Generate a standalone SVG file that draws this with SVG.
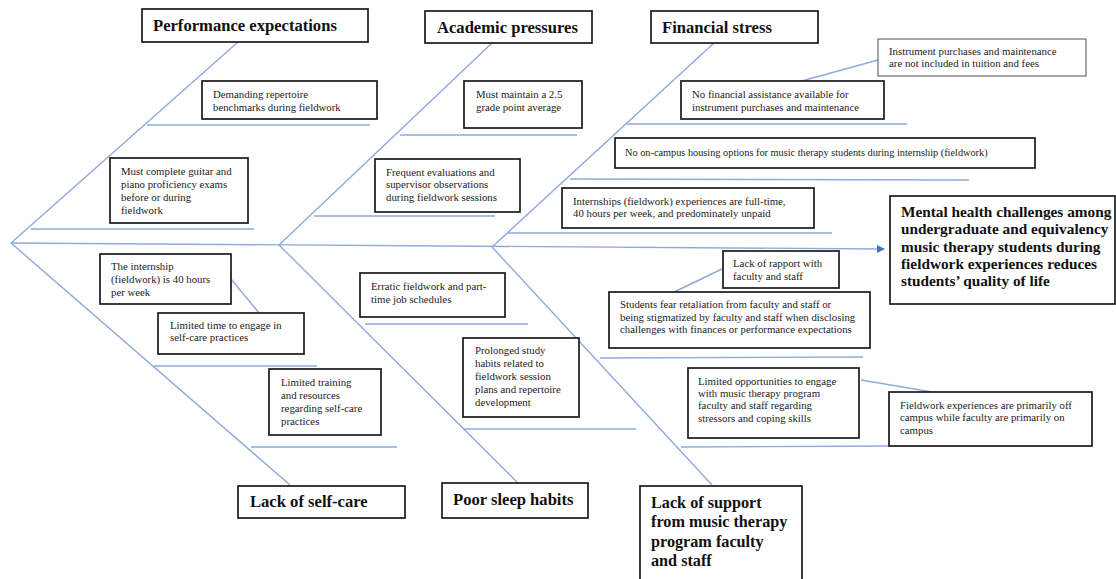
<svg xmlns="http://www.w3.org/2000/svg" width="1116" height="579" viewBox="0 0 1116 579">
<style>
.bg{fill:#fff}
.box{fill:#fff;stroke:#1a1a1a;stroke-width:1.7}
.gbox{fill:#fff;stroke:#6b6b6b;stroke-width:1.2}
.bone{stroke:#8eaadb;stroke-width:1.4;fill:none}
.sub{stroke:#8eaadb;stroke-width:1.4;fill:none}
.t{font-family:"Liberation Serif","Times New Roman",serif;font-size:10.8px;fill:#222}
.h{font-family:"Liberation Serif","Times New Roman",serif;font-size:16.6px;font-weight:bold;fill:#111}
.hs{font-family:"Liberation Serif","Times New Roman",serif;font-size:16.2px;font-weight:bold;fill:#111}
.hh{font-family:"Liberation Serif","Times New Roman",serif;font-size:15.3px;font-weight:bold;fill:#111}
</style>
<defs>
<marker id="arr" markerWidth="8" markerHeight="8" refX="7" refY="4" orient="auto" markerUnits="userSpaceOnUse">
<path d="M0,0 L8,4 L0,8 Z" fill="#4472c4"/>
</marker>
</defs>
<rect class="bg" x="0" y="0" width="1116" height="579"/>

<g id="connectors">
<line class="bone" x1="11" y1="243" x2="884" y2="249" marker-end="url(#arr)"/>
<line class="bone" x1="11" y1="243" x2="238" y2="42"/>
<line class="bone" x1="279" y1="245" x2="492" y2="43"/>
<line class="bone" x1="492" y1="247" x2="714" y2="43"/>
<line class="bone" x1="11" y1="243" x2="290" y2="485"/>
<line class="bone" x1="279" y1="245" x2="517" y2="482"/>
<line class="bone" x1="492" y1="247" x2="712" y2="485"/>
<line class="sub" x1="147" y1="125" x2="370" y2="125"/>
<line class="sub" x1="31" y1="229" x2="254" y2="229"/>
<line class="sub" x1="400" y1="135" x2="577" y2="135"/>
<line class="sub" x1="314" y1="216" x2="495" y2="216"/>
<line class="sub" x1="627" y1="124" x2="907" y2="124"/>
<line class="sub" x1="878" y1="60" x2="798" y2="82"/>
<line class="sub" x1="570" y1="179" x2="969" y2="180"/>
<line class="sub" x1="508" y1="233" x2="832" y2="233"/>
<line class="sub" x1="231" y1="279" x2="259" y2="313"/>
<line class="sub" x1="154" y1="366" x2="317" y2="366"/>
<line class="sub" x1="251" y1="447" x2="397" y2="447"/>
<line class="sub" x1="365" y1="324" x2="528" y2="324"/>
<line class="sub" x1="463" y1="429" x2="636" y2="429"/>
<line class="sub" x1="724" y1="268" x2="672" y2="293"/>
<line class="sub" x1="600" y1="358" x2="863" y2="357"/>
<line class="sub" x1="861" y1="380" x2="932" y2="392"/>
<line class="sub" x1="681" y1="447" x2="889" y2="446"/>
</g>

<g id="n-performance">
<rect class="box" x="142" y="9" width="226" height="33"/>
<text class="h" x="153" y="31">Performance expectations</text>
</g>
<g id="n-academic">
<rect class="box" x="425" y="11" width="167" height="32"/>
<text class="h" x="437" y="33">Academic pressures</text>
</g>
<g id="n-financial">
<rect class="box" x="651" y="11" width="167" height="32"/>
<text class="h" x="662" y="33">Financial stress</text>
</g>
<g id="n-selfcare">
<rect class="box" x="238" y="486" width="167" height="32"/>
<text class="h" x="250" y="507">Lack of self-care</text>
</g>
<g id="n-sleep">
<rect class="box" x="442" y="483" width="146" height="35"/>
<text class="h" x="453" y="505">Poor sleep habits</text>
</g>
<g id="n-support">
<rect class="box" x="640" y="486" width="162" height="100"/>
<text class="hs" x="651" y="508">Lack of support</text>
<text class="hs" x="651" y="527">from music therapy</text>
<text class="hs" x="651" y="547">program faculty</text>
<text class="hs" x="651" y="566">and staff</text>
</g>
<g id="n-head">
<rect class="box" x="890" y="196" width="225" height="108"/>
<text class="hh" x="901" y="217">Mental health challenges among</text>
<text class="hh" x="901" y="234">undergraduate and equivalency</text>
<text class="hh" x="901" y="252">music therapy students during</text>
<text class="hh" x="901" y="269">fieldwork experiences reduces</text>
<text class="hh" x="901" y="286">students’ quality of life</text>
</g>

<g id="n-demanding">
<rect class="box" x="202" y="81" width="175" height="38"/>
<text class="t" x="213" y="98">Demanding repertoire</text>
<text class="t" x="213" y="111">benchmarks during fieldwork</text>
</g>
<g id="n-guitar">
<rect class="box" x="110" y="158" width="138" height="65"/>
<text class="t" x="121" y="175">Must complete guitar and</text>
<text class="t" x="121" y="188">piano proficiency exams</text>
<text class="t" x="121" y="201">before or during</text>
<text class="t" x="121" y="214">fieldwork</text>
</g>
<g id="n-gpa">
<rect class="box" x="464" y="81" width="118" height="47"/>
<text class="t" x="476" y="98">Must maintain a 2.5</text>
<text class="t" x="476" y="111">grade point average</text>
</g>
<g id="n-evaluations">
<rect class="box" x="375" y="159" width="145" height="53"/>
<text class="t" x="386" y="176">Frequent evaluations and</text>
<text class="t" x="386" y="188">supervisor observations</text>
<text class="t" x="386" y="201">during fieldwork sessions</text>
</g>
<g id="n-instrument">
<rect class="gbox" x="878" y="39" width="208" height="37"/>
<text class="t" x="889" y="55">Instrument purchases and maintenance</text>
<text class="t" x="889" y="67">are not included in tuition and fees</text>
</g>
<g id="n-assistance">
<rect class="box" x="681" y="81" width="203" height="38"/>
<text class="t" x="692" y="98">No financial assistance available for</text>
<text class="t" x="692" y="111">instrument purchases and maintenance</text>
</g>
<g id="n-housing">
<rect class="box" x="615" y="138" width="420" height="30"/>
<text class="t" x="625" y="156" style="font-size:10.3px">No on-campus housing options for music therapy students during internship (fieldwork)</text>
</g>
<g id="n-unpaid">
<rect class="box" x="562" y="188" width="252" height="40"/>
<text class="t" x="573" y="205">Internships (fieldwork) experiences are full-time,</text>
<text class="t" x="573" y="217">40 hours per week, and predominately unpaid</text>
</g>
<g id="n-internship">
<rect class="box" x="100" y="254" width="131" height="50"/>
<text class="t" x="111" y="270">The internship</text>
<text class="t" x="111" y="283">(fieldwork) is 40 hours</text>
<text class="t" x="111" y="296">per week</text>
</g>
<g id="n-limitedtime">
<rect class="box" x="158" y="313" width="146" height="41"/>
<text class="t" x="170" y="329">Limited time to engage in</text>
<text class="t" x="170" y="341">self-care practices</text>
</g>
<g id="n-training">
<rect class="box" x="269" y="369" width="112" height="66"/>
<text class="t" x="281" y="386">Limited training</text>
<text class="t" x="281" y="399">and resources</text>
<text class="t" x="281" y="412">regarding self-care</text>
<text class="t" x="281" y="425">practices</text>
</g>
<g id="n-erratic">
<rect class="box" x="360" y="273" width="145" height="44"/>
<text class="t" x="371" y="290">Erratic fieldwork and part-</text>
<text class="t" x="371" y="303">time job schedules</text>
</g>
<g id="n-prolonged">
<rect class="box" x="463" y="338" width="116" height="79"/>
<text class="t" x="475" y="354">Prolonged study</text>
<text class="t" x="475" y="367">habits related to</text>
<text class="t" x="475" y="380">fieldwork session</text>
<text class="t" x="475" y="393">plans and repertoire</text>
<text class="t" x="475" y="406">development</text>
</g>
<g id="n-rapport">
<rect class="box" x="723" y="251" width="116" height="37"/>
<text class="t" x="733" y="267">Lack of rapport with</text>
<text class="t" x="733" y="280">faculty and staff</text>
</g>
<g id="n-retaliation">
<rect class="box" x="609" y="292" width="261" height="56"/>
<text class="t" x="620" y="308">Students fear retaliation from faculty and staff or</text>
<text class="t" x="620" y="321">being stigmatized by faculty and staff when disclosing</text>
<text class="t" x="620" y="333">challenges with finances or performance expectations</text>
</g>
<g id="n-opportunities">
<rect class="box" x="688" y="368" width="171" height="70"/>
<text class="t" x="698" y="385">Limited opportunities to engage</text>
<text class="t" x="698" y="397">with music therapy program</text>
<text class="t" x="698" y="409">faculty and staff regarding</text>
<text class="t" x="698" y="422">stressors and coping skills</text>
</g>
<g id="n-offcampus">
<rect class="box" x="889" y="392" width="203" height="54"/>
<text class="t" x="900" y="409">Fieldwork experiences are primarily off</text>
<text class="t" x="900" y="421">campus while faculty are primarily on</text>
<text class="t" x="900" y="434">campus</text>
</g>
</svg>
